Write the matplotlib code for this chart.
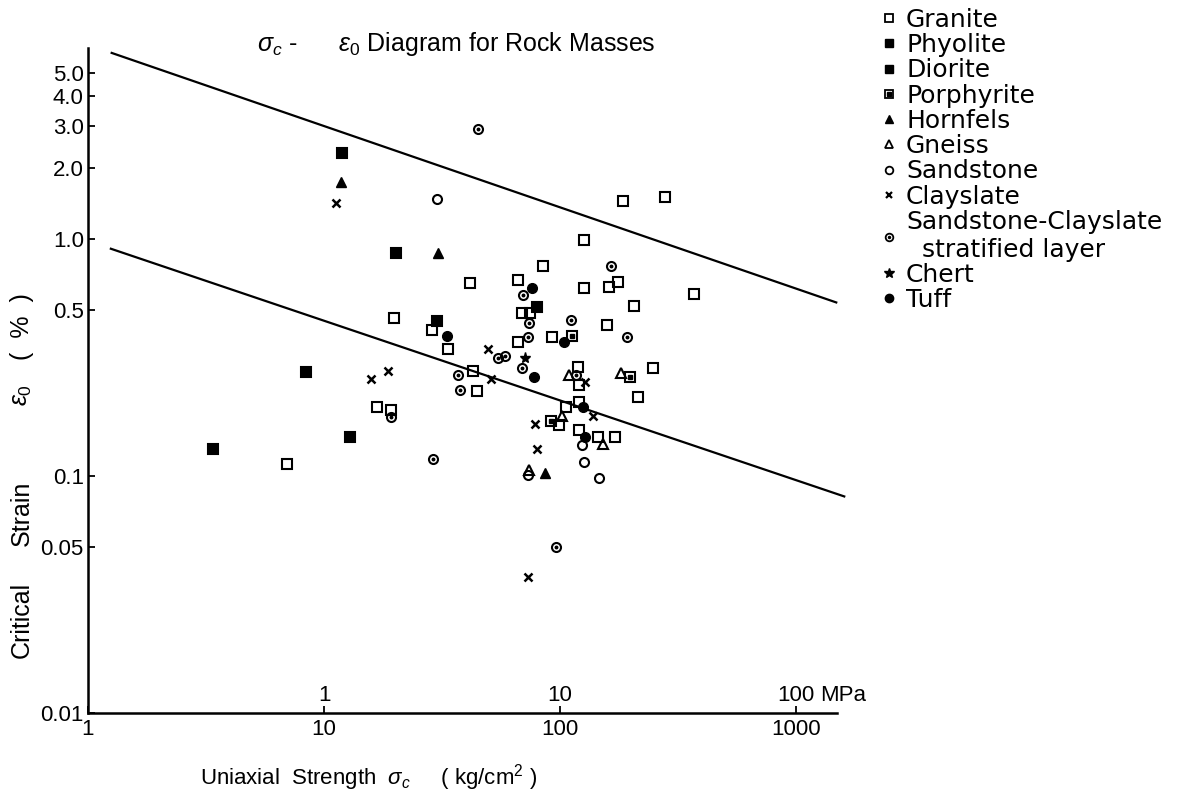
import matplotlib
matplotlib.use('Agg')
import matplotlib.pyplot as plt
from matplotlib.lines import Line2D

plt.rcParams['font.family'] = ['Liberation Sans', 'DejaVu Sans']
plt.rcParams['mathtext.fontset'] = 'custom'
plt.rcParams['mathtext.rm'] = 'Liberation Sans'
plt.rcParams['mathtext.it'] = 'Liberation Sans:italic'

# data: uniaxial strength (kg/cm2) and critical strain (%)
granite_x = [19.8, 28.7, 33.5, 42.8, 44.5, 16.8, 19.2, 6.97, 99, 106, 120, 120, 145, 171, 119,
             120, 248, 214, 158, 92.5, 66.4, 69, 74.6, 206, 84.7, 41.6, 66.4, 126, 161, 176,
             126, 185, 279, 370]
granite_y = [0.464, 0.413, 0.343, 0.277, 0.228, 0.196, 0.190, 0.112, 0.164, 0.195, 0.205, 0.156,
             0.146, 0.146, 0.288, 0.242, 0.286, 0.216, 0.434, 0.386, 0.368, 0.487, 0.487, 0.522,
             0.769, 0.652, 0.671, 0.621, 0.627, 0.659, 0.99, 1.45, 1.5, 0.586]
phyolite_x = [11.9, 20.2, 8.39, 3.39]
phyolite_y = [2.31, 0.873, 0.275, 0.130]
diorite_x = [30.1, 12.9, 80]
diorite_y = [0.451, 0.146, 0.516]
porphyrite_x = [91.6, 112, 198]
porphyrite_y = [0.171, 0.390, 0.262]
hornfels_x = [11.8, 30.4, 86.4]
hornfels_y = [1.74, 0.873, 0.103]
gneiss_x = [102, 109, 152, 181, 73.9]
gneiss_y = [0.179, 0.267, 0.136, 0.272, 0.106]
sandstone_x = [124, 126, 146, 73.2, 30]
sandstone_y = [0.135, 0.115, 0.098, 0.101, 1.47]
clayslate_x = [11.2, 15.8, 18.7, 49.5, 51, 78.4, 80, 73.2, 138, 128]
clayslate_y = [1.42, 0.257, 0.277, 0.343, 0.257, 0.166, 0.130, 0.0375, 0.179, 0.249]
sandclay_x = [19.2, 37, 37.7, 54.6, 58.5, 69, 29, 96.2, 117, 74, 69.7, 73.2, 111, 192, 164, 45]
sandclay_y = [0.177, 0.267, 0.231, 0.315, 0.321, 0.286, 0.118, 0.0502, 0.267, 0.442, 0.58,
              0.386, 0.455, 0.386, 0.769, 2.9]
chert_x = [71.1]
chert_y = [0.315]
tuff_x = [33.2, 77.6, 76, 104, 125, 128]
tuff_y = [0.390, 0.262, 0.621, 0.368, 0.195, 0.146]

# the two bounding lines
upper_x = [1.26, 1480]
upper_y = [6.1, 0.54]
lower_x = [1.25, 1600]
lower_y = [0.91, 0.082]

y_ticks = [0.01, 0.05, 0.1, 0.5, 1, 2, 3, 4, 5]
y_labels = ['0.01', '0.05', '0.1', '0.5', '1.0', '2.0', '3.0', '4.0', '5.0']
x_ticks = [1, 10, 100, 1000]
x_labels = ['1', '10', '100', '1000']

fig = plt.figure(figsize=(11.97, 7.93), dpi=100)
ax = fig.add_axes([0.0735, 0.1009, 0.6257, 0.8386])
ax.set_xscale('log')
ax.set_yscale('log')
ax.set_xlim(1, 1490)
ax.set_ylim(0.01, 6.4)

ax.plot(upper_x, upper_y, color='black', lw=1.6, clip_on=False)
ax.plot(lower_x, lower_y, color='black', lw=1.6, clip_on=False)

ms = 7
lw = 1.5
open_sq = dict(marker='s', ms=ms, mfc='none', mec='black', mew=lw, ls='none')
fill_sq = dict(marker='s', ms=ms, mfc='black', mec='black', mew=lw, ls='none')
open_o = dict(marker='o', ms=6.5, mfc='none', mec='black', mew=lw, ls='none')

ax.plot(granite_x, granite_y, **open_sq)
ax.plot(phyolite_x, phyolite_y, **fill_sq)
ax.plot(diorite_x, diorite_y, **fill_sq)
ax.plot(porphyrite_x, porphyrite_y, **open_sq)
ax.plot(porphyrite_x, porphyrite_y, marker='s', ms=2.5, color='black', ls='none')
ax.plot(hornfels_x, hornfels_y, marker='^', ms=7, color='black', ls='none')
ax.plot(gneiss_x, gneiss_y, marker='^', ms=7, mfc='none', mec='black', mew=lw, ls='none')
ax.plot(sandstone_x, sandstone_y, **open_o)
ax.plot(clayslate_x, clayslate_y, marker='x', ms=5.5, mec='black', mew=1.8, ls='none')
ax.plot(sandclay_x, sandclay_y, **open_o)
ax.plot(sandclay_x, sandclay_y, marker='o', ms=1.8, color='black', ls='none')
ax.plot(chert_x, chert_y, marker='*', ms=8, color='black', ls='none')
ax.plot(tuff_x, tuff_y, marker='o', ms=7, color='black', ls='none')

for side in ['top', 'right']:
    ax.spines[side].set_visible(False)
for side in ['left', 'bottom']:
    ax.spines[side].set_linewidth(1.8)

ax.set_yticks(y_ticks)
ax.set_yticklabels(y_labels)
ax.set_xticks(x_ticks)
ax.set_xticklabels(x_labels)
ax.minorticks_off()
ax.tick_params(axis='both', direction='in', length=5, width=1.3, labelsize=16, pad=4)
ax.tick_params(axis='y', pad=3)

# MPa scale written above the strength axis
for xv, lab in zip([10, 100, 1000], ['1', '10', '100']):
    ax.annotate(lab, xy=(xv, 0), xycoords=('data', 'axes fraction'), xytext=(0, 5),
                textcoords='offset points', ha='center', va='bottom', fontsize=16)
ax.annotate('MPa', xy=(1000, 0), xycoords=('data', 'axes fraction'), xytext=(17, 5),
            textcoords='offset points', ha='left', va='bottom', fontsize=16)

fig.text(0.215, 0.945, r'$\sigma_c$ -      $\varepsilon_0$ Diagram for Rock Masses',
         fontsize=18, ha='left', va='center')

fig.text(0.167, 0.019, r'Uniaxial  Strength  $\sigma_c$     ( kg/cm$^2$ )',
         fontsize=16, ha='left', va='center')

fig.text(0.018, 0.218, 'Critical', rotation=90, fontsize=18, ha='center', va='center')
fig.text(0.018, 0.353, 'Strain', rotation=90, fontsize=18, ha='center', va='center')
fig.text(0.018, 0.502, r'$\varepsilon_0$', rotation=90, fontsize=18, ha='center', va='center')
fig.text(0.018, 0.588, '(  %  )', rotation=90, fontsize=18, ha='center', va='center')

# legend
k = 'black'
h_granite = Line2D([], [], marker='s', ms=6, mfc='none', mec=k, mew=1.3, ls='none')
h_phy = Line2D([], [], marker='s', ms=6, color=k, ls='none')
h_dio = Line2D([], [], marker='s', ms=6, color=k, ls='none')
h_por = (Line2D([], [], marker='s', ms=6, mfc='none', mec=k, mew=1.3, ls='none'),
         Line2D([], [], marker='s', ms=2.2, color=k, ls='none'))
h_horn = Line2D([], [], marker='^', ms=6, color=k, ls='none')
h_gne = Line2D([], [], marker='^', ms=6, mfc='none', mec=k, mew=1.3, ls='none')
h_sand = Line2D([], [], marker='o', ms=5.5, mfc='none', mec=k, mew=1.3, ls='none')
h_clay = Line2D([], [], marker='x', ms=4.5, mec=k, mew=1.6, ls='none')
h_sc = (Line2D([], [], marker='o', ms=5.5, mfc='none', mec=k, mew=1.3, ls='none'),
        Line2D([], [], marker='o', ms=1.5, color=k, ls='none'))
h_chert = Line2D([], [], marker='*', ms=7, color=k, ls='none')
h_tuff = Line2D([], [], marker='o', ms=6, color=k, ls='none')

handles = [h_granite, h_phy, h_dio, h_por, h_horn, h_gne, h_sand, h_clay, h_sc, h_chert, h_tuff]
labels = ['Granite', 'Phyolite', 'Diorite', 'Porphyrite', 'Hornfels', 'Gneiss', 'Sandstone',
          'Clayslate', 'Sandstone-Clayslate\n  stratified layer', 'Chert', 'Tuff']
fig.legend(handles, labels, loc='upper left', bbox_to_anchor=(0.735, 0.99), frameon=False,
           prop={'family': 'DejaVu Sans', 'size': 18}, handlelength=0.7, handletextpad=0.35,
           labelspacing=0.05, borderaxespad=0, borderpad=0)

fig.savefig('out.png', dpi=100)
